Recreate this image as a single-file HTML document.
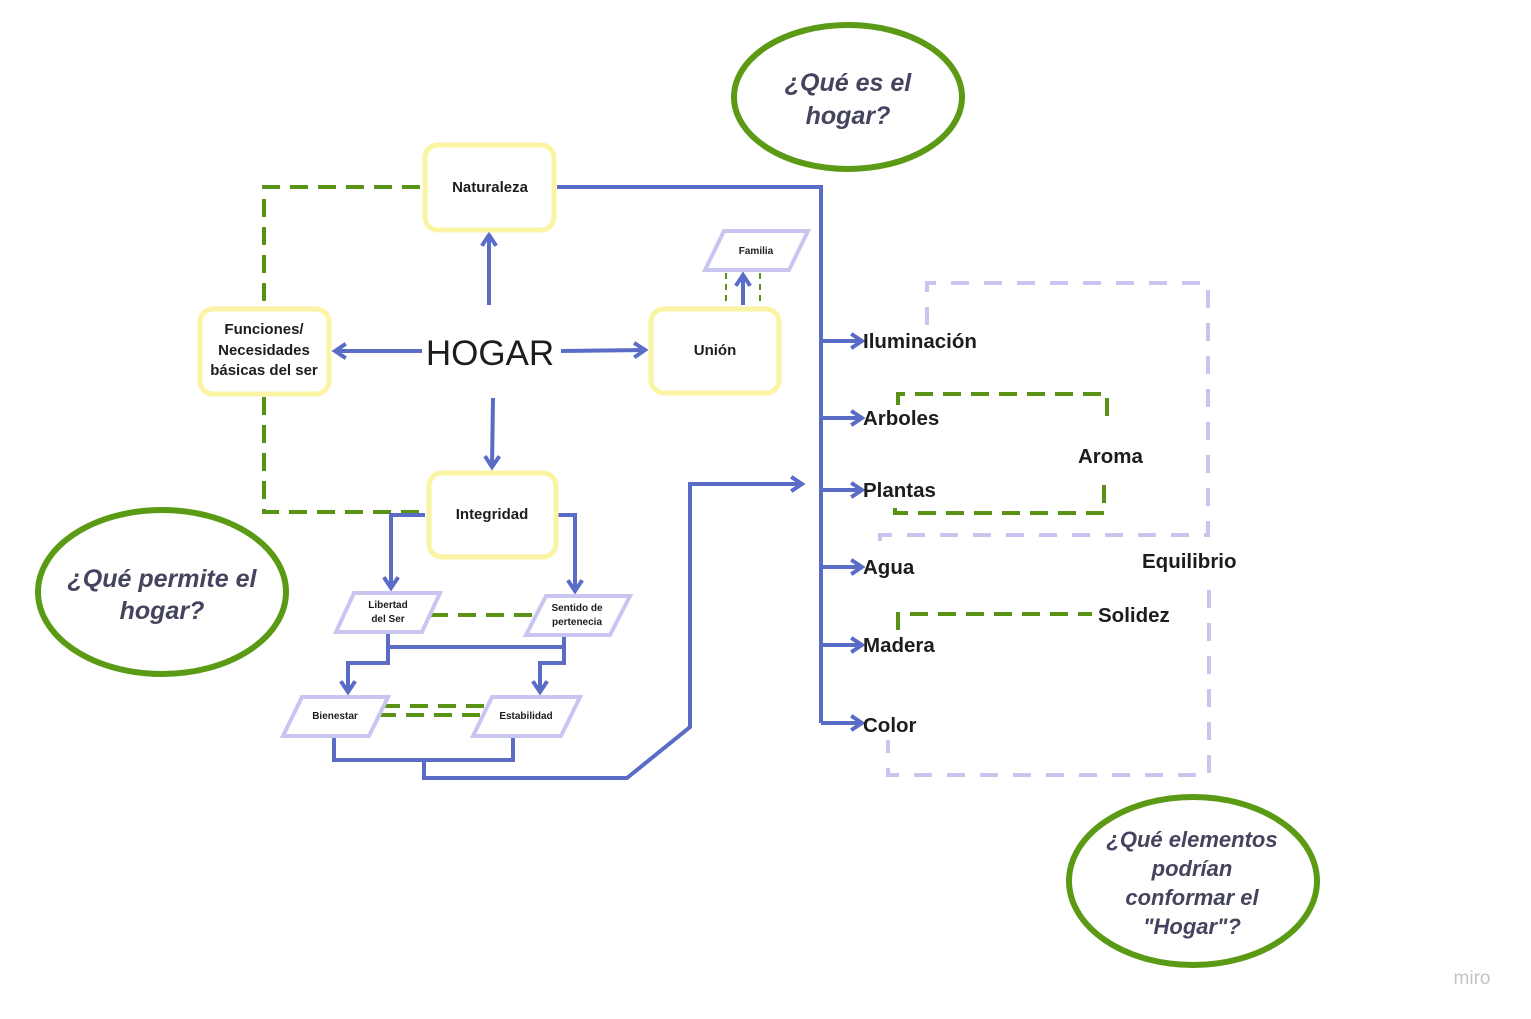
<!DOCTYPE html>
<html><head><meta charset="utf-8"><style>
html,body{margin:0;padding:0;background:#fff;}
svg{display:block;}
text{font-family:"Liberation Sans",sans-serif;}
</style></head><body>
<svg width="1531" height="1019" viewBox="0 0 1531 1019" xmlns="http://www.w3.org/2000/svg">
<defs>
<marker id="ah" viewBox="0 0 10 10" refX="8" refY="5" markerWidth="4.5" markerHeight="4.5" orient="auto" markerUnits="strokeWidth">
<polyline points="2,1 8,5 2,9" fill="none" stroke="#5a6cc6" stroke-width="2.2"/>
</marker>
</defs>

<g fill="none" stroke="#5a9216" stroke-width="4" stroke-dasharray="18,10">
<polyline points="420,187 264,187 264,306"/>
<polyline points="264,397 264,512 425,512"/>
<line x1="430" y1="615" x2="537" y2="615"/>
<line x1="382" y1="706" x2="494" y2="706"/>
<line x1="378" y1="715" x2="488" y2="715"/>
<polyline points="898,405 898,394 1107,394 1107,425"/>
<polyline points="1104,485 1104,513 895,513 895,503"/>
<polyline points="898,630 898,614 1092,614"/>
</g>
<g fill="none" stroke="#5a9216" stroke-width="2" stroke-dasharray="6,5">
<line x1="726" y1="273" x2="726" y2="306"/>
<line x1="760" y1="273" x2="760" y2="306"/>
</g>
<g fill="none" stroke="#c8c6f0" stroke-width="4" stroke-dasharray="18,15">
<polyline points="927,325 927,283 1208,283 1208,535 880,535 880,545"/>
<polyline points="1209,590 1209,775 888,775 888,740"/>
</g>

<g fill="none" stroke="#5a6cc6" stroke-width="4">
<line x1="489" y1="305" x2="489" y2="235" marker-end="url(#ah)"/>
<line x1="422" y1="351" x2="335" y2="351" marker-end="url(#ah)"/>
<line x1="561" y1="351" x2="645" y2="350" marker-end="url(#ah)"/>
<line x1="493" y1="398" x2="492" y2="467" marker-end="url(#ah)"/>
<line x1="743" y1="305" x2="743" y2="275" marker-end="url(#ah)"/>
<polyline points="425,515 391,515 391,588" marker-end="url(#ah)"/>
<polyline points="557,515 575,515 575,591" marker-end="url(#ah)"/>
<polyline points="388,632 388,663 348,663 348,692" marker-end="url(#ah)"/>
<line x1="388" y1="647" x2="564" y2="647"/>
<polyline points="564,636 564,663 540,663 540,692" marker-end="url(#ah)"/>
<polyline points="334,736 334,760 513,760 513,736"/>
<polyline points="424,760 424,778 627,778 690,727 690,484 802,484" marker-end="url(#ah)"/>
<polyline points="557,187 821,187 821,723"/>
<line x1="821" y1="341" x2="862" y2="341" marker-end="url(#ah)"/>
<line x1="821" y1="418" x2="862" y2="418" marker-end="url(#ah)"/>
<line x1="821" y1="490" x2="862" y2="490" marker-end="url(#ah)"/>
<line x1="821" y1="567" x2="862" y2="567" marker-end="url(#ah)"/>
<line x1="821" y1="645" x2="862" y2="645" marker-end="url(#ah)"/>
<line x1="821" y1="723" x2="862" y2="723" marker-end="url(#ah)"/>
</g>

<g fill="#fff" stroke="#faf4a4" stroke-width="5">
<rect x="425" y="145" width="129" height="85" rx="13"/>
<rect x="200" y="309" width="129" height="85" rx="13"/>
<rect x="651" y="309" width="128" height="84" rx="13"/>
<rect x="429" y="473" width="127" height="84" rx="13"/>
</g>
<g fill="#fff" stroke="#c8c6f0" stroke-width="4">
<polygon points="705,270 724,231 808,231 789,270"/>
<polygon points="336,632 354,593 440,593 422,632"/>
<polygon points="526,635 546,596 630,596 610,635"/>
<polygon points="283,736 302,697 388,697 369,736"/>
<polygon points="473,736 492,697 580,697 561,736"/>
</g>

<g fill="#1d1d1d" font-weight="bold" text-anchor="middle">
<text x="490" y="192" font-size="15">Naturaleza</text>
<text x="264" y="334" font-size="15">Funciones/</text>
<text x="264" y="355" font-size="15">Necesidades</text>
<text x="264" y="375" font-size="15">básicas del ser</text>
<text x="715" y="355" font-size="15">Unión</text>
<text x="492" y="519" font-size="15">Integridad</text>
<text x="756" y="254" font-size="10">Familia</text>
<text x="388" y="608" font-size="10">Libertad</text>
<text x="388" y="622" font-size="10">del Ser</text>
<text x="577" y="611" font-size="10">Sentido de</text>
<text x="577" y="625" font-size="10">pertenecia</text>
<text x="335" y="719" font-size="10">Bienestar</text>
<text x="526" y="719" font-size="10">Estabilidad</text>
</g>
<text x="490" y="365" font-size="35" fill="#1d1d1d" text-anchor="middle">HOGAR</text>

<g fill="#1d1d1d" font-weight="bold" font-size="20.5">
<text x="863" y="348">Iluminación</text>
<text x="863" y="425">Arboles</text>
<text x="863" y="497">Plantas</text>
<text x="863" y="574">Agua</text>
<text x="863" y="652">Madera</text>
<text x="863" y="732">Color</text>
<text x="1078" y="463">Aroma</text>
<text x="1142" y="568">Equilibrio</text>
<text x="1098" y="622">Solidez</text>
</g>

<g fill="none" stroke="#5a9a14" stroke-width="6">
<ellipse cx="848" cy="97" rx="114" ry="72"/>
<ellipse cx="162" cy="592" rx="124" ry="82"/>
<ellipse cx="1193" cy="881" rx="124" ry="84"/>
</g>
<g fill="#44445e" font-weight="bold" font-style="italic" text-anchor="middle">
<text x="848" y="91" font-size="25">¿Qué es el</text>
<text x="848" y="124" font-size="25">hogar?</text>
<text x="162" y="587" font-size="25">¿Qué permite el</text>
<text x="162" y="619" font-size="25">hogar?</text>
<text x="1192" y="847" font-size="22">¿Qué elementos</text>
<text x="1192" y="876" font-size="22">podrían</text>
<text x="1192" y="905" font-size="22">conformar el</text>
<text x="1192" y="934" font-size="22">"Hogar"?</text>
</g>
<text x="1472" y="984" font-size="19" fill="#c4c4c4" text-anchor="middle">miro</text>
</svg>
</body></html>
